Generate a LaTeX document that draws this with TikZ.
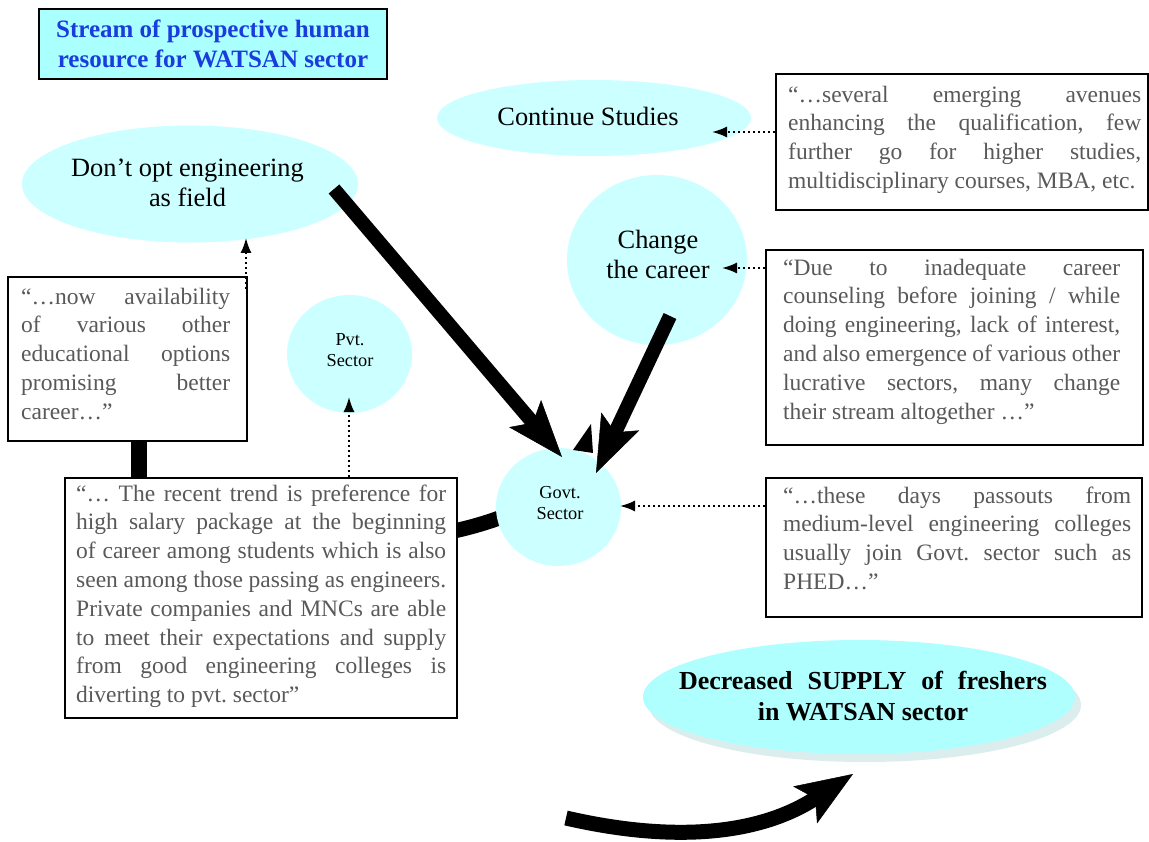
\documentclass[tikz,border=0pt]{standalone}
\usepackage{fontspec}
\setmainfont{Liberation Serif}
\usetikzlibrary{arrows.meta,shapes.geometric}

\definecolor{bubblecol}{HTML}{CCFFFF}
\definecolor{titlefill}{HTML}{AAFFFF}
\definecolor{supplyfill}{HTML}{B0FFFF}
\definecolor{supplyshade}{HTML}{DCEDED}
\definecolor{quotegray}{HTML}{595959}
\definecolor{titleblue}{HTML}{1A3CDC}

% quote text: Times-like, fixed leading
\newcommand{\quotefont}{\fontsize{23.5}{28.8}\selectfont\frenchspacing}
% width of the justified lines of the current quote
\newcommand{\qw}{300pt}
% one fully justified line of a quote (flexible word spaces)
\newcommand{\jl}[1]{\makebox[\qw][s]{\spaceskip=0.25em plus 2em minus 0.15em\relax\strut #1}}
% the closing, unstretched line of a quote
\newcommand{\lastline}[1]{\mbox{\spaceskip=0.25em\relax\strut #1}}

\begin{document}
\begin{tikzpicture}[x=1pt,y=-1pt,
  bubble/.style={ellipse, fill=bubblecol, draw=none, inner sep=0pt},
  elabel/.style={align=center, font=\fontsize{26.4}{30.4}\selectfont, inner sep=0pt},
  slabel/.style={align=center, font=\fontsize{18.3}{21.7}\selectfont, inner sep=0pt},
  qbox/.style={draw=black, line width=2.2pt, fill=white, inner sep=0pt, anchor=north west},
  qtext/.style={anchor=north west, inner sep=0pt, align=left, text=quotegray, font=\quotefont},
  dotarrow/.style={line width=1.8pt, dash pattern=on 1.8pt off 3.2pt, -{Latex[length=15pt,width=11pt]}},
  fatarrow/.style={line width=14pt, -{Stealth[length=57pt,width=42pt,inset=12pt,line width=0.5pt]}},
  fatline/.style={line width=15pt}
]
\useasboundingbox (0,0) rectangle (1149,842);
\fill[white] (0,0) rectangle (1149,842);

% anchor points of the heavy connectors
\coordinate (barTop) at (139,430);
\coordinate (barBot) at (139,487);
\coordinate (curveA) at (440,534);
\coordinate (curveB) at (515,512);

% heavy links lying behind the boxes and the Govt. bubble
\draw[line width=16pt] (barTop) -- (barBot);
\draw[fatline] (curveA) .. controls (470,528) and (490,522) .. (curveB);

% title
\node[draw=black, line width=2.5pt, fill=titlefill, minimum width=348, minimum height=70,
      align=center, text=titleblue, font=\bfseries\fontsize{25}{30}\selectfont, inner sep=0pt]
      (title) at (213,44) {Stream of prospective human\\resource for WATSAN sector};

% bubbles
\node[bubble, minimum width=314, minimum height=76] (cont) at (594,118) {};
\node[elabel, anchor=base] (conttxt) at (588,126) {Continue Studies};

\node[bubble, minimum width=336, minimum height=117] (dont) at (190,184) {};
\node[elabel] (donttxt) at (187.5,183) {Don’t opt engineering\\as field};

\node[bubble, minimum width=180, minimum height=170] (change) at (657,260) {};
\node[elabel] (changetxt) at (658,254.5) {Change\\the career};

\node[bubble, minimum width=125, minimum height=118] (pvt) at (349.5,354) {};
\node[slabel] (pvttxt) at (350,350) {Pvt.\\Sector};

\node[bubble, minimum width=125, minimum height=118] (govt) at (558.5,507) {};
\node[slabel] (govttxt) at (560,503) {Govt.\\Sector};

% outcome bubble with its soft shadow
\node[ellipse, fill=supplyshade, minimum width=432, minimum height=114, inner sep=0pt] (supplyshadow) at (865,705) {};
\node[ellipse, fill=supplyfill, minimum width=432, minimum height=114, inner sep=0pt] (supply) at (859,697) {};
\node[align=center, font=\bfseries\fontsize{26}{31.5}\selectfont, inner sep=0pt] (supplytxt) at (863,696)
  {\makebox[368pt][s]{\spaceskip=0.25em plus 2em\relax Decreased SUPPLY of freshers}\\in WATSAN sector};

% quotation boxes
\node[qbox, minimum width=372, minimum height=136] (boxA) at (775,73) {};
\node[qtext, text width=360] (textA) at (788,81.8) {\renewcommand{\qw}{353pt}%
\jl{“…several emerging avenues}\\
\jl{enhancing the qualification, few}\\
\jl{further go for higher studies,}\\
\lastline{multidisciplinary courses, MBA, etc.}};

\node[qbox, minimum width=377, minimum height=195] (boxB) at (765,249) {};
\node[qtext, text width=345] (textB) at (783,254.8) {\renewcommand{\qw}{337pt}%
\jl{“Due to inadequate career}\\
\jl{counseling before joining / while}\\
\jl{doing engineering, lack of interest,}\\
\jl{and also emergence of various other}\\
\jl{lucrative sectors, many change}\\
\lastline{their stream altogether …”}};

\node[qbox, minimum width=376, minimum height=139] (boxC) at (765,477) {};
\node[qtext, text width=350] (textC) at (783,482.8) {\renewcommand{\qw}{348pt}%
\jl{“…these days passouts from}\\
\jl{medium-level engineering colleges}\\
\jl{usually join Govt. sector such as}\\
\lastline{PHED…”}};

\node[qbox, minimum width=239, minimum height=164] (boxD) at (7,276) {};
\node[qtext, text width=215] (textD) at (21,283.8) {\renewcommand{\qw}{209pt}%
\jl{“…now availability}\\
\jl{of various other}\\
\jl{educational options}\\
\jl{promising better}\\
\lastline{career…”}};

\node[qbox, minimum width=392, minimum height=240] (boxE) at (64,477) {};
\node[qtext, text width=375] (textE) at (76,480.8) {\renewcommand{\qw}{370pt}%
\jl{“… The recent trend is preference for}\\
\jl{high salary package at the beginning}\\
\jl{of career among students which is also}\\
\jl{seen among those passing as engineers.}\\
\jl{Private companies and MNCs are able}\\
\jl{to meet their expectations and supply}\\
\jl{from good engineering colleges is}\\
\lastline{diverting to pvt. sector”}};

% dotted pointers from the quotes to their bubbles
\coordinate (contTip) at (712,132);
\coordinate (changeTip) at (722,268);
\coordinate (govtTip) at (620,506);
\coordinate (dontTip) at (246,238);
\coordinate (dontFoot) at (246,289);
\coordinate (pvtTip) at (349,397);
\draw[dotarrow] (boxA.west |- contTip) -- (contTip);
\draw[dotarrow] (boxB.west |- changeTip) -- (changeTip);
\draw[dotarrow] (boxC.west |- govtTip) -- (govtTip);
\draw[dotarrow] (dontFoot) -- (dontTip);
\draw[dotarrow] (boxE.north -| pvtTip) -- (pvtTip);

% heavy arrows into the Govt. sector
\coordinate (a1s) at (334,189);
\coordinate (a1e) at (562,457);
\coordinate (a2s) at (670,316);
\coordinate (a2e) at (596,473);
\draw[fatarrow] (a1s) -- (a1e);
\draw[fatarrow] (a2s) -- (a2e);
\fill (573,450) -- (591,424) -- (593,453) -- cycle;

% sweeping arrow towards the outcome
\coordinate (bs) at (566,818);
\coordinate (be) at (853,774);
\draw[line width=15pt, -{Stealth[length=57pt,width=44pt,inset=12pt,line width=0.5pt]}]
  (bs) .. controls (670,842) and (757,836) .. (be);
\end{tikzpicture}
\end{document}
